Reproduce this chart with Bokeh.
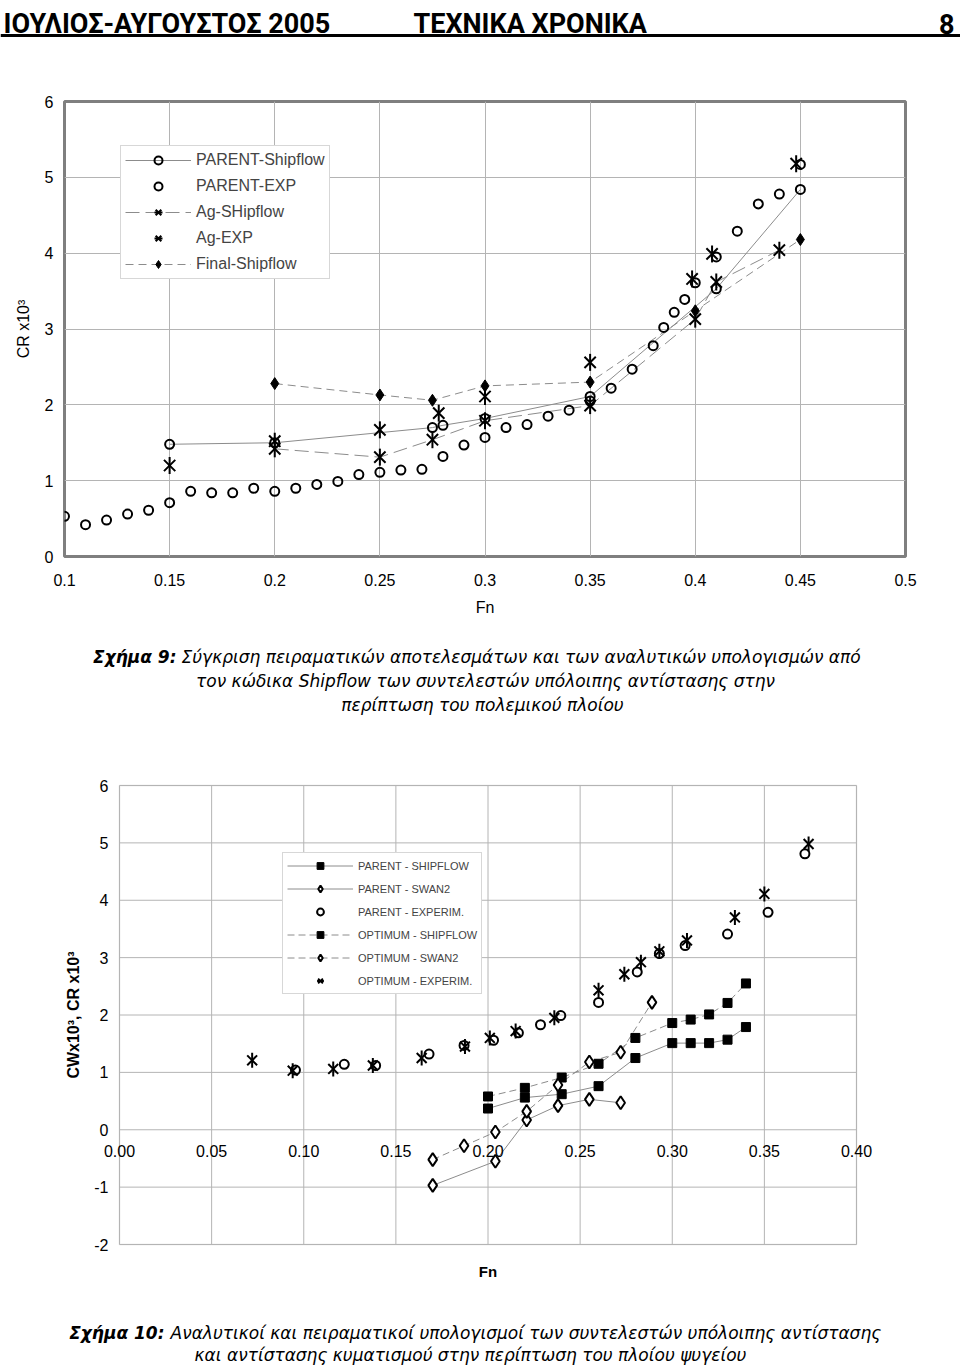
import math
from bokeh.plotting import figure
from bokeh.models import (Range1d, FixedTicker, Legend, LegendItem, Label, Span, LinearAxis,
                          BoxAnnotation)
from bokeh.embed import file_html
from bokeh.resources import INLINE

# ---------------- Figure 9 data (C_R x10^3 vs Fn) ----------------
fig9_x_ticks = [0.1, 0.15, 0.2, 0.25, 0.3, 0.35, 0.4, 0.45, 0.5]
fig9_x_labels = ["0.1", "0.15", "0.2", "0.25", "0.3", "0.35", "0.4", "0.45", "0.5"]
fig9_y_ticks = [0, 1, 2, 3, 4, 5, 6]

parent_exp_fn = [0.10, 0.11, 0.12, 0.13, 0.14, 0.15, 0.16, 0.17, 0.18, 0.19, 0.20, 0.21, 0.22, 0.23,
                 0.24, 0.25, 0.26, 0.27, 0.28, 0.29, 0.30, 0.31, 0.32, 0.33, 0.34, 0.35, 0.36, 0.37,
                 0.38, 0.385, 0.39, 0.395, 0.40, 0.41, 0.42, 0.43, 0.44, 0.45]
parent_exp_cr = [0.53, 0.42, 0.48, 0.56, 0.61, 0.71, 0.86, 0.84, 0.84, 0.90, 0.86, 0.90, 0.95, 0.99,
                 1.08, 1.11, 1.14, 1.15, 1.32, 1.47, 1.57, 1.70, 1.74, 1.85, 1.93, 2.05, 2.22, 2.47,
                 2.78, 3.02, 3.22, 3.39, 3.61, 3.95, 4.29, 4.65, 4.78, 5.17]

parent_ship_fn = [0.15, 0.20, 0.275, 0.28, 0.30, 0.35, 0.41, 0.45]
parent_ship_cr = [1.48, 1.50, 1.70, 1.73, 1.82, 2.11, 3.53, 4.84]

ag_ship_fn = [0.20, 0.25, 0.275, 0.30, 0.35, 0.40, 0.41, 0.44]
ag_ship_cr = [1.42, 1.31, 1.54, 1.79, 1.99, 3.13, 3.62, 4.04]

ag_exp_fn = [0.15, 0.20, 0.25, 0.278, 0.30, 0.35, 0.3985, 0.408, 0.448]
ag_exp_cr = [1.20, 1.52, 1.67, 1.89, 2.11, 2.56, 3.66, 3.99, 5.18]

final_fn = [0.20, 0.25, 0.275, 0.30, 0.35, 0.40, 0.45]
final_cr = [2.28, 2.13, 2.06, 2.25, 2.30, 3.24, 4.18]

# ---------------- Figure 10 data (C_W, C_R x10^3 vs Fn) ----------------
fig10_x_ticks = [0.0, 0.05, 0.10, 0.15, 0.20, 0.25, 0.30, 0.35, 0.40]
fig10_x_labels = ["0.00", "0.05", "0.10", "0.15", "0.20", "0.25", "0.30", "0.35", "0.40"]
fig10_y_ticks = [-2, -1, 0, 1, 2, 3, 4, 5, 6]

ship_fn = [0.20, 0.22, 0.24, 0.26, 0.28, 0.30, 0.31, 0.32, 0.33, 0.34]
parent_shipflow = [0.37, 0.56, 0.62, 0.76, 1.25, 1.51, 1.51, 1.51, 1.57, 1.79]
optimum_shipflow = [0.58, 0.73, 0.91, 1.15, 1.60, 1.86, 1.92, 2.01, 2.21, 2.55]

parent_swan_fn = [0.170, 0.204, 0.221, 0.238, 0.255, 0.272]
parent_swan = [-0.97, -0.55, 0.17, 0.42, 0.53, 0.47]
optimum_swan_fn = [0.170, 0.187, 0.204, 0.221, 0.238, 0.255, 0.272, 0.289]
optimum_swan = [-0.52, -0.28, -0.04, 0.32, 0.78, 1.18, 1.35, 2.22]

parent_experim_fn = [0.0955, 0.122, 0.139, 0.168, 0.187, 0.203, 0.2165, 0.2285, 0.2395, 0.260,
                     0.281, 0.293, 0.307, 0.330, 0.352, 0.372]
parent_experim = [1.04, 1.14, 1.12, 1.32, 1.47, 1.56, 1.69, 1.83, 1.99, 2.22,
                  2.75, 3.07, 3.21, 3.41, 3.79, 4.81]
optimum_experim_fn = [0.072, 0.094, 0.116, 0.1375, 0.164, 0.1875, 0.201, 0.215, 0.236, 0.260,
                      0.274, 0.283, 0.293, 0.308, 0.334, 0.350, 0.374]
optimum_experim = [1.21, 1.03, 1.06, 1.12, 1.25, 1.45, 1.60, 1.72, 1.95, 2.43,
                   2.71, 2.92, 3.11, 3.30, 3.70, 4.11, 4.98]

FONT = "Liberation Sans"
CAPFONT = "DejaVu Sans"
GRID = "#b4b4b4"
LINE = "#8c8c8c"


def style_axis(ax, size="16px"):
    ax.axis_line_color = None
    ax.major_tick_line_color = None
    ax.minor_tick_line_color = None
    ax.major_tick_out = 0
    ax.major_tick_in = 0
    ax.major_label_text_font = FONT
    ax.major_label_text_font_size = size
    ax.major_label_text_color = "black"
    ax.axis_label_text_color = "black"
    ax.axis_label_text_font = FONT


def chart(xr, yr, fw, fh, left, right, top, bottom):
    p = figure(x_range=Range1d(*xr), y_range=Range1d(*yr), frame_width=fw, frame_height=fh,
               min_border_left=left, min_border_right=right, min_border_top=top,
               min_border_bottom=bottom, output_backend="svg", toolbar_location=None)
    p.background_fill_color = "white"
    p.border_fill_color = "white"
    for ax in p.axis:
        style_axis(ax)
    p.grid.grid_line_color = GRID
    p.grid.grid_line_width = 1
    return p


def star(p, x, y, size, lw):
    a = p.scatter(x, y, marker="x", size=size, line_color="black", line_width=lw)
    b = p.scatter(x, y, marker="dash", size=size + 1, angle=math.pi / 2,
                  line_color="black", line_width=lw)
    return [a, b]


def text_panel(y0, h):
    p = figure(x_range=Range1d(0, 960), y_range=Range1d(y0 + h, y0), width=960, height=h,
               x_axis_type=None, y_axis_type=None, min_border=0, output_backend="svg",
               toolbar_location=None, outline_line_color=None)
    p.background_fill_color = "white"
    p.border_fill_color = "white"
    return p


def lab(p, x, y, text, size, font=FONT, style="normal", align="center", baseline="middle"):
    p.add_layout(Label(x=x, y=y, text=text, text_font=font, text_font_size=f"{size}px",
                       text_font_style=style, text_align=align, text_baseline=baseline,
                       text_color="black"))


# ---------------- Header (page y 0..44) ----------------
hdr = text_panel(0, 44)
lab(hdr, 3, 23, "ΙΟΥΛΙΟΣ-ΑΥΓΟΥΣΤΟΣ 2005", 27, font="Roboto", style="bold", align="left", baseline="alphabetic")
lab(hdr, 413, 23, "ΤΕΧΝΙΚΑ ΧΡΟΝΙΚΑ", 27, font="Roboto", style="bold", align="left", baseline="alphabetic")
lab(hdr, 954, 23, "8", 27, font="Roboto", style="bold", align="right", baseline="alphabetic")
hdr.add_layout(Span(location=35, dimension="width", line_color="black", line_width=3))

# ---------------- Figure 9 (page y 44..625) ----------------
p1 = chart((0.1, 0.5), (0, 6), 841, 455, 64, 55, 57, 69)
p1.xaxis.ticker = FixedTicker(ticks=fig9_x_ticks)
p1.xgrid.ticker = FixedTicker(ticks=fig9_x_ticks)
p1.xaxis.major_label_overrides = dict(zip(fig9_x_ticks, fig9_x_labels))
p1.yaxis.ticker = FixedTicker(ticks=fig9_y_ticks)
p1.ygrid.ticker = FixedTicker(ticks=fig9_y_ticks)
p1.yaxis.major_label_overrides = {t: str(t) for t in fig9_y_ticks}
p1.outline_line_color = "#7f7f7f"
p1.outline_line_width = 3
p1.xaxis.major_label_standoff = 17
p1.yaxis.major_label_standoff = 11
p1.xaxis.axis_label = "Fn"
p1.xaxis.axis_label_text_font_size = "16px"
p1.xaxis.axis_label_text_font_style = "normal"
p1.xaxis.axis_label_standoff = 10
p1.yaxis.axis_label = "CR x10³"
p1.yaxis.axis_label_text_font_size = "16px"
p1.yaxis.axis_label_text_font_style = "normal"
p1.yaxis.axis_label_standoff = 10

l_ps = p1.line(parent_ship_fn, parent_ship_cr, line_color=LINE, line_width=1)
l_ag = p1.line(ag_ship_fn, ag_ship_cr, line_color=LINE, line_width=1, line_dash="14 6")
l_fi = p1.line(final_fn, final_cr, line_color=LINE, line_width=1, line_dash="8 5")
m_pe = p1.scatter(parent_exp_fn, parent_exp_cr, marker="circle", size=9, line_color="black",
                  line_width=2, fill_color=None)
m_ps = p1.scatter(parent_ship_fn, parent_ship_cr, marker="circle", size=9, line_color="black",
                  line_width=2, fill_color=None)
m_ag = star(p1, ag_ship_fn, ag_ship_cr, 16, 2)
m_ae = star(p1, ag_exp_fn, ag_exp_cr, 16, 2)
m_fi = p1.scatter(final_fn, final_cr, marker="diamond", size=12, color="black")

leg1 = Legend(items=[
    LegendItem(label="PARENT-Shipflow", renderers=[l_ps, m_ps]),
    LegendItem(label="PARENT-EXP", renderers=[m_pe]),
    LegendItem(label="Ag-SHipflow", renderers=[l_ag] + m_ag),
    LegendItem(label="Ag-EXP", renderers=m_ae),
    LegendItem(label="Final-Shipflow", renderers=[l_fi, m_fi]),
], location=(56, 277))
leg1.margin = 0
leg1.padding = 4
leg1.spacing = 6
leg1.glyph_height = 20
leg1.label_height = 20
leg1.glyph_width = 66
leg1.label_standoff = 5
leg1.label_text_font = FONT
leg1.label_text_font_size = "16px"
leg1.border_line_color = "#b0b0b0"
leg1.border_line_width = 1
leg1.background_fill_color = "white"
leg1.background_fill_alpha = 1
p1.add_layout(leg1)

# ---------------- Caption 9 (page y 625..760) ----------------
cap1 = text_panel(625, 135)
lab(cap1, 176, 656, "Σχήμα 9:", 17, font=CAPFONT, style="bold italic", align="right")
lab(cap1, 181, 656, "Σύγκριση πειραματικών αποτελεσμάτων και των αναλυτικών υπολογισμών από",
    17, font=CAPFONT, style="italic", align="left")
lab(cap1, 485, 680, "τον κώδικα Shipflow των συντελεστών υπόλοιπης αντίστασης στην", 17,
    font=CAPFONT, style="italic")
lab(cap1, 482, 704, "περίπτωση του πολεμικού πλοίου", 17, font=CAPFONT, style="italic")

# ---------------- Figure 10 (page y 760..1308) ----------------
# chart box spans Fn 0..0.40 over 737 px and -2..6 over 459 px; the frame is widened
# (59 px each side) and heightened (12 px each side) so that the tick labels drawn along
# Fn = 0 and CW = 0 are not clipped at the box edges
x_lo, x_hi = fig10_x_ticks[0], fig10_x_ticks[-1]
y_lo, y_hi = fig10_y_ticks[0], fig10_y_ticks[-1]
pad_x = 59 * (x_hi - x_lo) / 737
pad_y = 12 * (y_hi - y_lo) / 459
p2 = chart((x_lo - pad_x, x_hi + pad_x), (y_lo - pad_y, y_hi + pad_y),
           737 + 118, 459 + 24, 60, 45, 13, 52)
p2.grid.visible = False
p2.outline_line_color = None
p2.segment(x0=fig10_x_ticks, y0=[y_lo] * len(fig10_x_ticks), x1=fig10_x_ticks,
           y1=[y_hi] * len(fig10_x_ticks), line_color=GRID, line_width=1)
p2.segment(x0=[x_lo] * len(fig10_y_ticks), y0=fig10_y_ticks, x1=[x_hi] * len(fig10_y_ticks),
           y1=fig10_y_ticks, line_color=GRID, line_width=1)
p2.add_layout(BoxAnnotation(left=x_lo, right=x_hi, bottom=y_lo, top=y_hi, fill_alpha=0,
                            line_color="#a6a6a6", line_width=1.5, level="underlay"))

p2.xaxis.ticker = FixedTicker(ticks=[])
p2.xaxis.major_label_standoff = 0
p2.xaxis.axis_label = "Fn"
p2.xaxis.axis_label_text_font_size = "15px"
p2.xaxis.axis_label_text_font_style = "bold"
p2.xaxis.axis_label_standoff = 6
p2.yaxis.fixed_location = 0
p2.yaxis.ticker = FixedTicker(ticks=fig10_y_ticks)
p2.yaxis.major_label_overrides = {t: str(t) for t in fig10_y_ticks}
p2.yaxis.major_label_standoff = 11
p2.yaxis.axis_label = "CWx10³, CR x10³"
p2.yaxis.axis_label_text_font_size = "16px"
p2.yaxis.axis_label_text_font_style = "bold"
p2.yaxis.axis_label_standoff = 9

zero_axis = LinearAxis(fixed_location=0, ticker=FixedTicker(ticks=fig10_x_ticks),
                       major_label_overrides=dict(zip(fig10_x_ticks, fig10_x_labels)))
style_axis(zero_axis)
zero_axis.major_label_standoff = 15
p2.add_layout(zero_axis, "below")

l_psh = p2.line(ship_fn, parent_shipflow, line_color=LINE, line_width=1)
l_osh = p2.line(ship_fn, optimum_shipflow, line_color=LINE, line_width=1, line_dash="7 4")
l_psw = p2.line(parent_swan_fn, parent_swan, line_color=LINE, line_width=1)
l_osw = p2.line(optimum_swan_fn, optimum_swan, line_color=LINE, line_width=1, line_dash="7 4")
m_psh = p2.scatter(ship_fn, parent_shipflow, marker="square", size=9, color="black")
m_osh = p2.scatter(ship_fn, optimum_shipflow, marker="square", size=9, color="black")
m_psw = p2.scatter(parent_swan_fn, parent_swan, marker="diamond", size=13, line_color="black",
                   line_width=2, fill_color="white")
m_osw = p2.scatter(optimum_swan_fn, optimum_swan, marker="diamond", size=13, line_color="black",
                   line_width=2, fill_color="white")
m_pex = p2.scatter(parent_experim_fn, parent_experim, marker="circle", size=9, line_color="black",
                   line_width=2, fill_color=None)
m_oex = star(p2, optimum_experim_fn, optimum_experim, 14, 2)

leg2 = Legend(items=[
    LegendItem(label="PARENT - SHIPFLOW", renderers=[l_psh, m_psh]),
    LegendItem(label="PARENT - SWAN2", renderers=[l_psw, m_psw]),
    LegendItem(label="PARENT - EXPERIM.", renderers=[m_pex]),
    LegendItem(label="OPTIMUM - SHIPFLOW", renderers=[l_osh, m_osh]),
    LegendItem(label="OPTIMUM - SWAN2", renderers=[l_osw, m_osw]),
    LegendItem(label="OPTIMUM - EXPERIM.", renderers=m_oex),
], location=(222, 262))
leg2.margin = 0
leg2.padding = 4
leg2.spacing = 6
leg2.glyph_height = 17
leg2.label_height = 17
leg2.glyph_width = 66
leg2.label_standoff = 5
leg2.label_text_font = FONT
leg2.label_text_font_size = "11px"
leg2.border_line_color = "#b0b0b0"
leg2.border_line_width = 1
leg2.background_fill_color = "white"
leg2.background_fill_alpha = 1
p2.add_layout(leg2)

# ---------------- Caption 10 (page y 1308..1368) ----------------
cap2 = text_panel(1308, 60)
lab(cap2, 164, 1332, "Σχήμα 10:", 17, font=CAPFONT, style="bold italic", align="right")
lab(cap2, 170, 1332, "Αναλυτικοί και πειραματικοί υπολογισμοί των συντελεστών υπόλοιπης αντίστασης",
    17, font=CAPFONT, style="italic", align="left")
lab(cap2, 470, 1354, "και αντίστασης κυματισμού στην περίπτωση του πλοίου ψυγείου", 17,
    font=CAPFONT, style="italic")

open("out.html", "w").write(file_html([hdr, p1, cap1, p2, cap2], INLINE))
